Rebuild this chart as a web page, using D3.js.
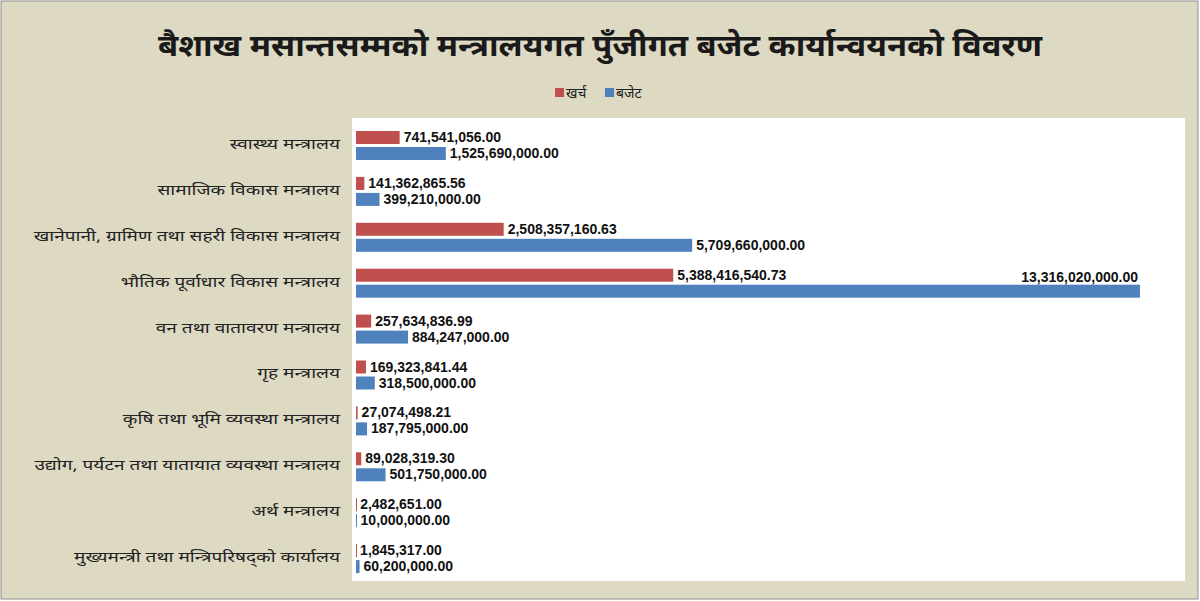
<!DOCTYPE html>
<html><head><meta charset="utf-8">
<script src="https://cdn.jsdelivr.net/npm/d3@7"></script>
<style>body{margin:0;background:#fff}svg{display:block}</style>
</head><body>
<svg id="chart" width="1200" height="601"></svg>
<script>
var categories = ['स्वास्थ्य मन्त्रालय', 'सामाजिक विकास मन्त्रालय', 'खानेपानी, ग्रामिण तथा सहरी विकास मन्त्रालय',
  'भौतिक पूर्वाधार विकास मन्त्रालय', 'वन तथा वातावरण मन्त्रालय', 'गृह मन्त्रालय', 'कृषि तथा भूमि व्यवस्था मन्त्रालय',
  'उद्योग, पर्यटन तथा यातायात व्यवस्था मन्त्रालय', 'अर्थ मन्त्रालय', 'मुख्यमन्त्री तथा मन्त्रिपरिषद्को कार्यालय'];
var kharcha = [741541056.00, 141362865.56, 2508357160.63, 5388416540.73, 257634836.99, 169323841.44,
  27074498.21, 89028319.30, 2482651.00, 1845317.00];
var budget = [1525690000, 399210000, 5709660000, 13316020000, 884247000, 318500000,
  187795000, 501750000, 10000000, 60200000];
var seriesNames = ['खर्च', 'बजेट'];
var colors = ['#c0504d', '#4f81bd'];

var svg = d3.select('#chart');
svg.append('rect').attr('x', 1).attr('y', 1).attr('width', 1197).attr('height', 598)
  .attr('fill', '#ddd9c3').attr('stroke', '#8e8e8e');
svg.append('rect').attr('x', 352).attr('y', 118).attr('width', 833).attr('height', 463).attr('fill', '#fff');

svg.append('text').attr('transform', 'translate(600,56) scale(1.09,1)').attr('text-anchor', 'middle')
  .attr('font-family', 'Noto Sans, sans-serif').attr('font-size', 30).attr('font-weight', 'bold')
  .attr('fill', '#1a1a1a').text('बैशाख मसान्तसम्मको मन्त्रालयगत पुँजीगत बजेट कार्यान्वयनको विवरण');

var legend = svg.append('g').attr('font-family', 'Noto Sans, sans-serif').attr('font-size', 14);
[[555, 0], [605, 1]].forEach(function (d) {
  legend.append('rect').attr('x', d[0]).attr('y', 88).attr('width', 9).attr('height', 9).attr('fill', colors[d[1]]);
  legend.append('text').attr('x', d[0] + 11).attr('y', 98).attr('fill', '#222').text(seriesNames[d[1]]);
});

var x = d3.scaleLinear().domain([0, 13316020000]).range([356, 1140]);
var y = d3.scaleBand().domain(categories).range([122, 581]);
var fmt = d3.format(',.2f');

var g = svg.selectAll('.cat').data(categories).enter().append('g')
  .attr('transform', function (d) { return 'translate(0,' + y(d) + ')'; });

g.append('text').attr('transform', 'translate(340,' + (y.bandwidth() / 2 + 4) + ') scale(1.36,1)')
  .attr('text-anchor', 'end').attr('font-family', 'Noto Sans, sans-serif').attr('font-size', 14)
  .attr('fill', '#222').text(function (d) { return d; });

[kharcha, budget].forEach(function (vals, s) {
  var top = 9 + s * 16;
  g.append('rect').attr('x', x(0)).attr('y', top).attr('height', 13)
    .attr('width', function (d, i) { return Math.max(1, x(vals[i]) - x(0)); })
    .attr('fill', colors[s]);
  g.append('text')
    .attr('x', function (d, i) {
      var xe = x(vals[i]) + 4;
      return i === 3 && s === 1 ? x(vals[i]) - 2 : xe;
    })
    .attr('y', function (d, i) { return i === 3 && s === 1 ? top - 3 : top + 11; })
    .attr('text-anchor', function (d, i) { return i === 3 && s === 1 ? 'end' : 'start'; })
    .attr('font-family', 'Liberation Sans, Arial, sans-serif').attr('font-size', 14).attr('font-weight', 'bold')
    .attr('fill', '#111').text(function (d, i) { return fmt(vals[i]); });
});
</script>
</body></html>
